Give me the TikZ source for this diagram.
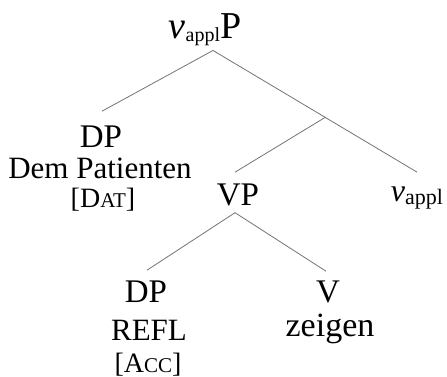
\documentclass[tikz,border=0pt]{standalone}
\usepackage{fontspec}
\setmainfont{Liberation Serif}
\usetikzlibrary{positioning}

\newcommand{\fsize}[1]{\fontsize{#1}{#1}\selectfont}
\newcommand{\fakesc}[1]{{\fsize{21}#1}}
\newcommand{\appl}[1]{\raisebox{-3pt}{\fsize{#1}appl}}

\begin{document}
\begin{tikzpicture}[
                x=1pt,y=-1pt,
                every node/.append style={inner sep=0pt,anchor=base},
                cat/.style={font=\fsize{33}},
                word/.style={font=\fsize{31}},
                case/.style={font=\fsize{28}},
                branch/.style={draw=gray!90!black,line width=0.8pt}
            ]
                \useasboundingbox (0,0) rectangle (447,377);
                % top projection
                \node (vP)   [font=\fsize{38}] at (205,39) {\textit{v}\appl{20}P};
                \node (DPa)  [cat]  at (101,147) {DP};
                \node (Dem)  [word] at (100,178) {Dem Patienten};
                \node (Dat)  [case] at (103,207) {[D\fakesc{AT}]};
                \node (va)   [font=\fsize{32}] at (417,201) {\textit{v}\appl{22}};
                \node (VP)   [cat]  at (238,205) {VP};
                % lower VP
                \node (DPb)  [cat]  at (146,302) {DP};
                \node (refl) [word] at (149,340) {REFL};
                \node (Acc)  [case] at (148,372) {[A\fakesc{CC}]};
                \node (V)    [cat]  at (328,302) {V};
                \node (zeig) [font=\fsize{34}] at (330,336) {zeigen};
                \draw [branch] ([xshift=8pt,yshift=-4pt]vP.south) -- ([xshift=1pt,yshift=14pt]DPa.north);
                \draw [branch] ([xshift=8pt,yshift=-4pt]vP.south) -- coordinate[pos=0.55] (vbar) ([yshift=14pt]va.north);
                \draw [branch] (vbar) -- ([xshift=-3pt,yshift=11pt]VP.north);
                \draw [branch] ([xshift=-3pt,yshift=-7pt]VP.south) -- ([xshift=1pt,yshift=10pt]DPb.north);
                \draw [branch] ([xshift=-3pt,yshift=-7pt]VP.south) -- ([xshift=-2pt,yshift=9pt]V.north);
            \end{tikzpicture}
\end{document}
